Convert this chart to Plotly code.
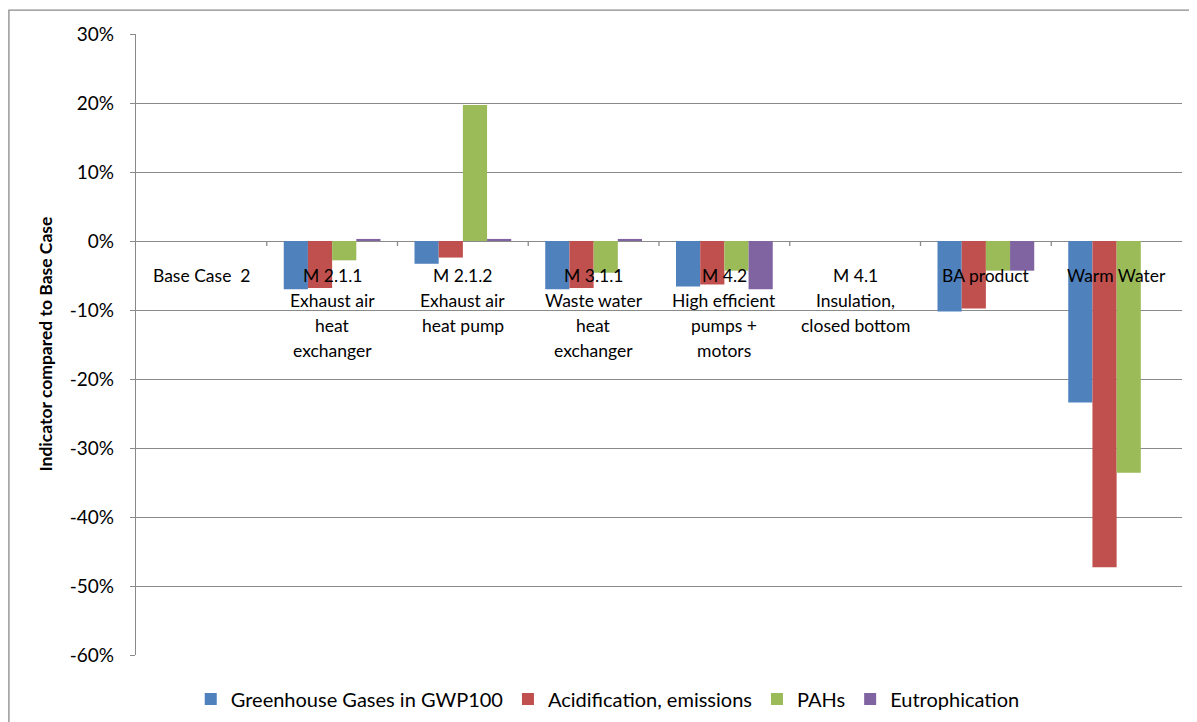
import plotly.graph_objects as go

categories = ["Base Case 2", "M 2.1.1", "M 2.1.2", "M 3.1.1", "M 4.2", "M 4.1", "BA product", "Warm Water"]
category_label_lines = [
    ["Base Case  2"],
    ["M 2.1.1", "Exhaust air", "heat", "exchanger"],
    ["M 2.1.2", "Exhaust air", "heat pump"],
    ["M 3.1.1", "Waste water", "heat", "exchanger"],
    ["M 4.2", "High efficient", "pumps +", "motors"],
    ["M 4.1", "Insulation,", "closed bottom"],
    ["BA product"],
    ["Warm Water"],
]

series_names = ["Greenhouse Gases in GWP100", "Acidification, emissions", "PAHs", "Eutrophication"]
ghg = [0.0, -7.0, -3.3, -7.0, -6.6, 0.0, -10.2, -23.4]
acidification = [0.0, -6.8, -2.4, -6.8, -6.3, 0.0, -9.8, -47.3]
pahs = [0.0, -2.8, 19.7, -4.6, -4.3, 0.0, -4.3, -33.6]
eutrophication = [0.0, 0.3, 0.3, 0.3, -7.0, 0.0, -4.3, 0.0]
series_values = [ghg, acidification, pahs, eutrophication]
series_colors = ["#4F81BD", "#C0504D", "#9BBB59", "#8064A2"]

y_tick_values = [30, 20, 10, 0, -10, -20, -30, -40, -50, -60]
y_tick_labels = ["30%", "20%", "10%", "0%", "-10%", "-20%", "-30%", "-40%", "-50%", "-60%"]

FONT = "Lato, 'Open Sans', sans-serif"
GRID = "#8a8a8a"

fig = go.Figure()
for name, vals, col in zip(series_names, series_values, series_colors):
    fig.add_trace(go.Bar(
        x=categories, y=vals, name=name,
        marker=dict(color=col, line=dict(width=0)),
    ))

# category labels positioned at the zero line, one annotation per line
for cat, lines in zip(categories, category_label_lines):
    for li, txt in enumerate(lines):
        fig.add_annotation(
            x=cat, y=0, xref="x", yref="y", text=txt, showarrow=False,
            yanchor="middle", xanchor="center", yshift=-34 - 25 * li,
            font=dict(family=FONT, size=17.5, color="#000000"),
        )

# tick marks at category boundaries on the zero line
for i in range(1, len(categories)):
    fig.add_shape(
        type="line", xref="x", yref="y", x0=i - 0.5, x1=i - 0.5,
        ysizemode="pixel", yanchor=0, y0=0, y1=-5,
        line=dict(color=GRID, width=1.3),
    )

# outer chart border
fig.add_shape(
    type="rect", xref="paper", yref="paper",
    x0=-0.1215, x1=1.02, y0=-0.13, y1=1.0386,
    line=dict(color=GRID, width=1.3), fillcolor="rgba(0,0,0,0)", layer="below",
)

# y-axis title
fig.add_annotation(
    xref="paper", yref="paper", x=0, y=0.5, xshift=-91,
    text="<b>Indicator compared to Base Case</b>", textangle=-90, showarrow=False,
    xanchor="center", yanchor="middle",
    font=dict(family=FONT, size=17.5, color="#000000"),
)

fig.update_layout(
    width=1189, height=714,
    paper_bgcolor="white", plot_bgcolor="white",
    margin=dict(l=128, r=15, t=26, b=67, autoexpand=False),
    barmode="group", bargap=0.26, bargroupgap=0,
    font=dict(family=FONT, size=17.5, color="#000000"),
    showlegend=True,
    legend=dict(
        orientation="h", x=0.451, xanchor="center", y=-0.071, yanchor="middle",
        font=dict(family=FONT, size=20, color="#000000"),
        itemwidth=30, traceorder="normal", bgcolor="rgba(0,0,0,0)",
    ),
    xaxis=dict(
        showticklabels=False, showgrid=False, zeroline=False, showline=False,
        ticks="", fixedrange=True,
    ),
    yaxis=dict(
        range=[-60, 30], tickmode="array", tickvals=y_tick_values, ticktext=y_tick_labels,
        showgrid=True, gridcolor=GRID, gridwidth=1.3,
        zeroline=True, zerolinecolor=GRID, zerolinewidth=1.3,
        showline=True, linecolor=GRID, linewidth=1.3,
        ticks="outside", ticklen=5, tickcolor=GRID, tickwidth=1.3,
        ticklabelstandoff=12,
        tickfont=dict(family=FONT, size=19, color="#000000"),
    ),
)

fig.write_html("out.html")
